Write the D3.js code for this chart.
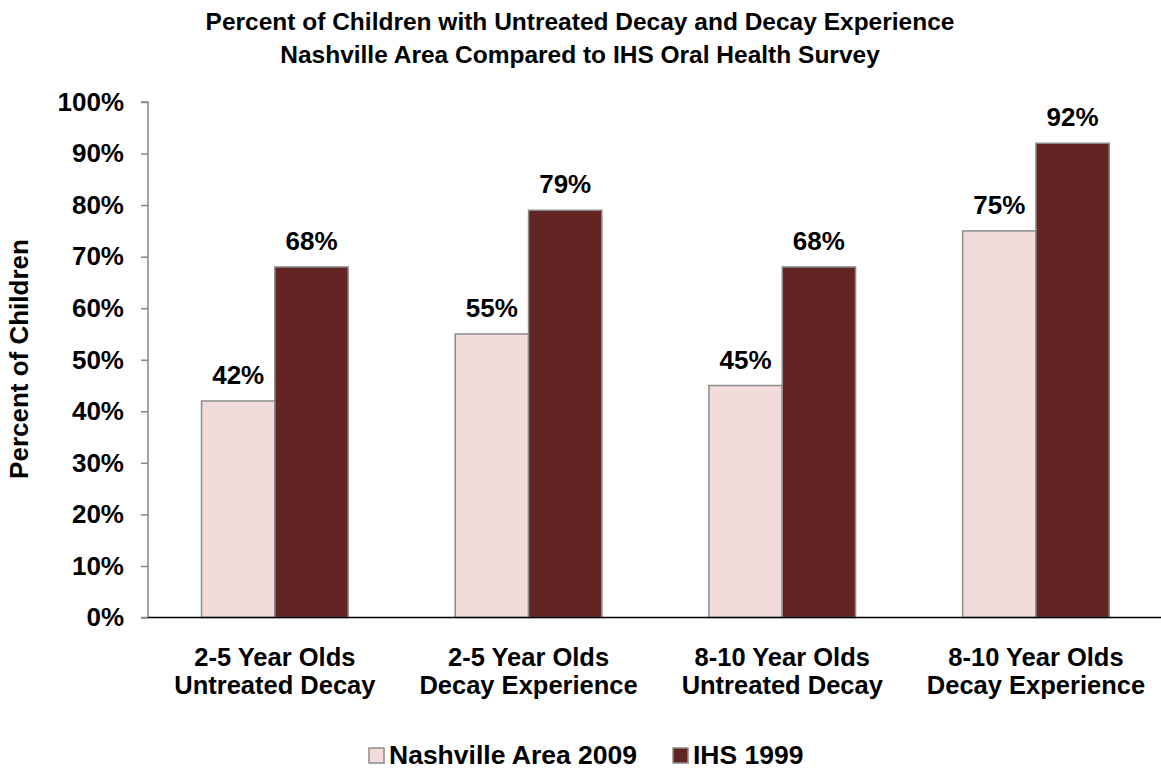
<!DOCTYPE html>
<html>
<head>
<meta charset="utf-8">
<script src="https://cdn.jsdelivr.net/npm/d3@7"></script>
<style>
  html, body { margin: 0; padding: 0; background: #fff; }
  svg { display: block; }
  text { font-family: "Liberation Sans", Arial, sans-serif; font-weight: bold; fill: #000; }
</style>
</head>
<body>
<svg id="chart" width="1161" height="769"></svg>
<script>
// Survey results, percent of children
const categories = [
  ["2-5 Year Olds", "Untreated Decay"],
  ["2-5 Year Olds", "Decay Experience"],
  ["8-10 Year Olds", "Untreated Decay"],
  ["8-10 Year Olds", "Decay Experience"]
];
const seriesNames = ["Nashville Area 2009", "IHS 1999"];
const nashville2009 = [42, 55, 45, 75];
const ihs1999 = [68, 79, 68, 92];
const yTicks = [0, 10, 20, 30, 40, 50, 60, 70, 80, 90, 100];
const titleLines = [
  "Percent of Children with Untreated Decay and Decay Experience",
  "Nashville Area Compared to IHS Oral Health Survey"
];

const colors = ["#F2DCDB", "#632523"];
const series = [nashville2009, ihs1999];

const svg = d3.select("#chart");
const margin = { left: 148, right: 0, top: 102, bottom: 152 };
const W = 1161, H = 769;
const plotW = 1162.8 - margin.left;
const plotH = 617.5 - margin.top;

const g = svg.append("g").attr("transform", `translate(${margin.left},${margin.top})`);

const x0 = d3.scaleBand().domain(d3.range(categories.length)).range([0, plotW]).paddingInner(0).paddingOuter(0);
const innerPad = (x0.bandwidth() - 146.6) / 2;
const x1 = d3.scaleBand().domain(d3.range(series.length)).range([innerPad, x0.bandwidth() - innerPad]);
const y = d3.scaleLinear().domain([0, 100]).range([plotH, 0]);

// Bars with value labels
categories.forEach((c, i) => {
  const grp = g.append("g").attr("transform", `translate(${x0(i)},0)`);
  series.forEach((s, j) => {
    grp.append("rect")
      .attr("x", x1(j))
      .attr("y", y(s[i]))
      .attr("width", x1.bandwidth())
      .attr("height", y(0) - y(s[i]))
      .attr("fill", colors[j])
      .attr("stroke", "#8C8C8C")
      .attr("stroke-width", 1.5);
    grp.append("text")
      .attr("x", x1(j) + x1.bandwidth() / 2)
      .attr("y", y(s[i]) - 17)
      .attr("text-anchor", "middle")
      .style("font-size", "26px")
      .text(s[i] + "%");
  });
});

// Y axis
const yAxis = d3.axisLeft(y).tickValues(yTicks).tickSize(7).tickPadding(17).tickFormat(d => d + "%");
const ya = g.append("g").call(yAxis);
ya.select(".domain").attr("stroke", "#868686").attr("stroke-width", 1.5).attr("d", `M-7,0H0V${plotH}H-7`);
ya.selectAll(".tick line").attr("stroke", "#868686").attr("stroke-width", 1.5);
ya.selectAll(".tick text").style("font-size", "26px").style("font-family", '"Liberation Sans", Arial, sans-serif').style("font-weight", "bold").attr("fill", "#000");

// X axis baseline
g.append("line")
  .attr("x1", 0).attr("x2", W - margin.left)
  .attr("y1", y(0)).attr("y2", y(0))
  .attr("stroke", "#000").attr("stroke-width", 1.5);

// Category labels (two lines each)
categories.forEach((c, i) => {
  const cx = x0(i) + x0.bandwidth() / 2;
  c.forEach((line, k) => {
    g.append("text")
      .attr("text-anchor", "middle")
      .attr("x", cx)
      .attr("y", plotH + 48 + k * 28)
      .style("font-size", "25.5px")
      .text(line);
  });
});

// Title
titleLines.forEach((line, k) => {
  svg.append("text")
    .attr("x", 580)
    .attr("y", 30 + k * 33)
    .attr("text-anchor", "middle")
    .style("font-size", "24.5px")
    .text(line);
});

// Y axis title
svg.append("text")
  .attr("transform", `translate(28,359) rotate(-90)`)
  .attr("text-anchor", "middle")
  .style("font-size", "26px")
  .text("Percent of Children");

// Legend
const legend = svg.append("g");
const legendItems = [{ x: 369, name: seriesNames[0] }, { x: 673, name: seriesNames[1] }];
legendItems.forEach((it, j) => {
  legend.append("rect")
    .attr("x", it.x).attr("y", 748)
    .attr("width", 15).attr("height", 15)
    .attr("fill", colors[j])
    .attr("stroke", "#8C8C8C").attr("stroke-width", 1.5);
  legend.append("text")
    .attr("x", it.x + 20).attr("y", 764)
    .style("font-size", "26.5px")
    .text(it.name);
});
</script>
</body>
</html>
